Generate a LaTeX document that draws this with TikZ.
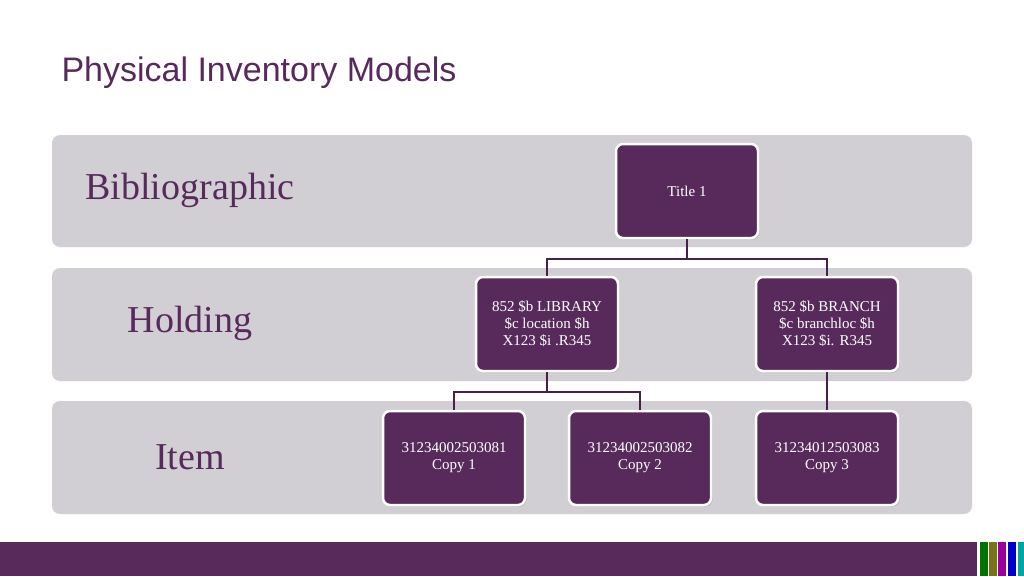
\documentclass[tikz,border=0pt]{standalone}
\usepackage{fontspec}
\setmainfont{Liberation Serif}
\newfontfamily\headfont{Liberation Sans}
\usetikzlibrary{positioning,shadows}
\definecolor{plum}{HTML}{582A5C}
\definecolor{bandgray}{HTML}{D1CFD3}
\tikzset{
  band/.style={fill=bandgray, rounded corners=8pt},
  recbox/.style={fill=plum, draw=white, line width=2.5pt, rounded corners=7pt,
    minimum width=142pt, minimum height=94pt, text=white, align=center,
    font=\fontsize{15}{17}\selectfont, drop shadow={opacity=.35, shadow xshift=1.5pt, shadow yshift=-1.5pt}},
  levellabel/.style={text=plum, font=\fontsize{38}{40}\selectfont},
  link/.style={draw=plum!80!black, line width=1.8pt}
}
\begin{document}
\begin{tikzpicture}[x=1pt,y=-1pt]
    \useasboundingbox (0,0) rectangle (1024,576);
    \fill[white] (0,0) rectangle (1024,576);

    % title
    \node[anchor=west, text=plum, font=\headfont\fontsize{34}{36}\selectfont] (head) at (58,73) {Physical Inventory Models};

    % bands
    \fill[band] (52,135) rectangle (972,247);
    \fill[band] (52,268) rectangle (972,381);
    \fill[band] (52,401) rectangle (972,514);
    \node[levellabel] (bib) at (190,190) {Bibliographic};
    \node[levellabel] (hold) at (190,323) {Holding};
    \node[levellabel] (item) at (190,457) {Item};

    % records
    \node[recbox] (title) at (687,191) {Title 1};
    \node[recbox] (lib) at (547,324) {852 \$b LIBRARY\\\$c location \$h\\X123 \$i .R345};
    \node[recbox] (branch) at (827,324) {852 \$b BRANCH\\\$c branchloc \$h\\X123 \$i. R345};
    \node[recbox] (copyA) at (454,458) {31234002503081\\Copy 1};
    \node[recbox] (copyB) at (640,458) {31234002503082\\Copy 2};
    \node[recbox] (copyC) at (827,458) {31234012503083\\Copy 3};

    % links
    \draw[link] (title.south) -- ++(0,20) coordinate (tj);
    \draw[link] (tj) -| (lib.north);
    \draw[link] (tj) -| (branch.north);
    \draw[link] (lib.south) -- ++(0,20) coordinate (lj);
    \draw[link] (lj) -| (copyA.north);
    \draw[link] (lj) -| (copyB.north);
    \draw[link] (branch.south) -- (copyC.north);

    % footer
    \fill[plum] (0,542) rectangle (977,576);
    \foreach \x/\c in {980/{green!45!black}, 989/{olive!80!black}, 998/{violet!80!magenta}, 1008/{blue!80!black}, 1018/{teal!70!cyan}}
      \fill[\c] (\x,542) rectangle ++(8,34);
\end{tikzpicture}
\end{document}
